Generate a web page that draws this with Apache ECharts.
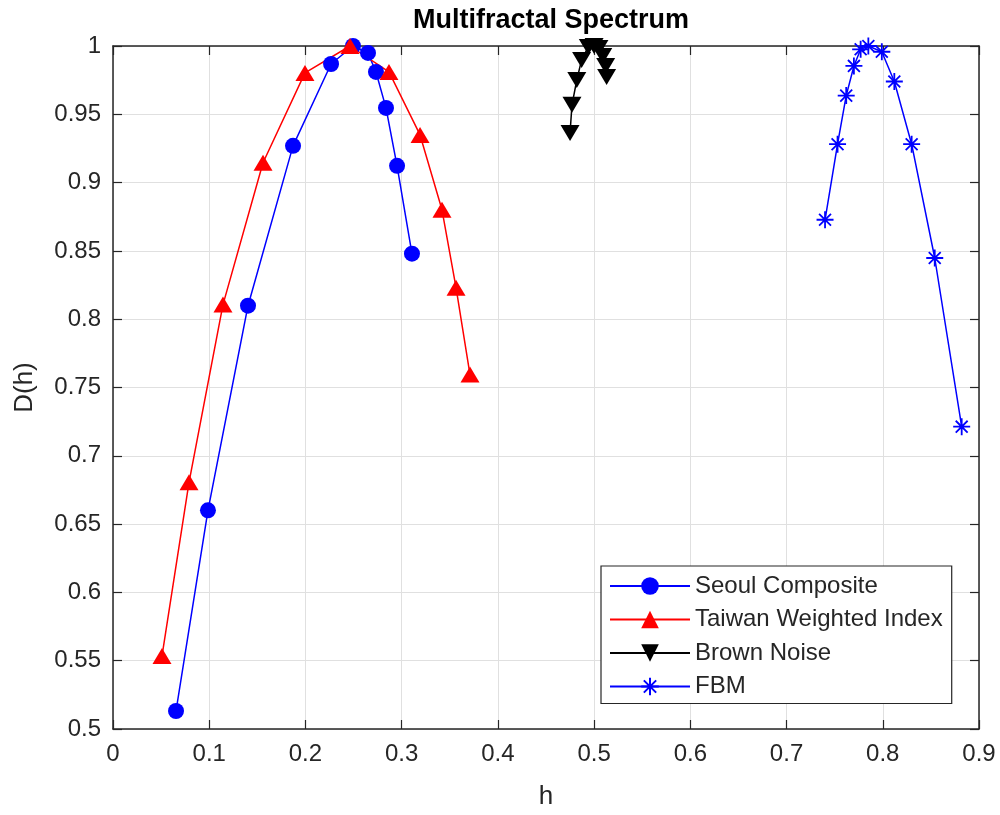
<!DOCTYPE html>
<html>
<head>
<meta charset="utf-8">
<script src="https://cdn.jsdelivr.net/npm/echarts@6/dist/echarts.min.js"></script>
<style>
html,body{margin:0;padding:0;background:#fff;}
#chart{width:1000px;height:815px;}
</style>
</head>
<body>
<div id="chart"></div>
<script>
// ---- data ----
const seoulH = [0.0655, 0.0987, 0.1403, 0.1871, 0.2266, 0.2494, 0.2650, 0.2733, 0.2837, 0.2952, 0.3107];
const seoulD = [0.5132, 0.6601, 0.8099, 0.9269, 0.9868, 1.0000, 0.9949, 0.9810, 0.9547, 0.9123, 0.8480];

const taiwanH = [0.0509, 0.0790, 0.1143, 0.1559, 0.1995, 0.2463, 0.2868, 0.3191, 0.3419, 0.3565, 0.3710];
const taiwanD = [0.5534, 0.6806, 0.8107, 0.9145, 0.9803, 1.0000, 0.9810, 0.9349, 0.8801, 0.8231, 0.7595];

const brownH = [0.475, 0.477, 0.482, 0.487, 0.494, 0.500, 0.505, 0.509, 0.512, 0.513];
const brownD = [0.9364, 0.9569, 0.9751, 0.9898, 0.9993, 1.0000, 0.9985, 0.9927, 0.9854, 0.9773];

const fbmH = [0.740, 0.753, 0.762, 0.770, 0.777, 0.785, 0.799, 0.812, 0.830, 0.854, 0.882];
const fbmD = [0.8728, 0.9281, 0.9637, 0.9854, 0.9976, 1.0000, 0.9958, 0.9740, 0.9281, 0.8448, 0.7213];

const seriesNames = ['Seoul Composite', 'Taiwan Weighted Index', 'Brown Noise', 'FBM'];
const titleText = 'Multifractal Spectrum';
const xName = 'h';
const yName = 'D(h)';

// ---- build ----
const pairs = (hs, ds) => hs.map((h, i) => [h, ds[i]]);
const FONT = 'Liberation Sans, Arial, Helvetica, sans-serif';
const AX = '#262626';
const GRID = '#e0e0e0';
const fmt = v => String(Number(v.toFixed(2)));
const asterisk = 'path://M0,-10L0,10M-10,0L10,0M-7,-7L7,7M-7,7L7,-7';

function axisCommon(show) {
  return {
    axisLine: { show: true, onZero: false, lineStyle: { color: AX, width: 1.5 } },
    axisTick: { show: true, inside: true, length: 9, lineStyle: { color: AX, width: 1.2 } },
    axisLabel: { show: show, color: AX, fontSize: 24, fontFamily: FONT, formatter: fmt },
    splitLine: { show: show, lineStyle: { color: GRID, width: 1 } }
  };
}

const chart = echarts.init(document.getElementById('chart'), null, { renderer: 'canvas' });
chart.setOption({
  animation: false,
  backgroundColor: '#fff',
  title: {
    text: titleText, left: 546, top: 2, textAlign: 'center',
    textStyle: { fontFamily: FONT, fontWeight: 'bold', fontSize: 27, color: '#000' }
  },
  grid: { left: 113, right: 21, top: 46, bottom: 85 },
  xAxis: [
    Object.assign({ type: 'value', min: 0, max: 0.9, interval: 0.1, position: 'bottom',
      name: xName, nameLocation: 'middle', nameGap: 55,
      nameTextStyle: { fontFamily: FONT, fontSize: 26, color: AX } }, axisCommon(true),
      { axisLabel: { color: AX, fontSize: 24, fontFamily: FONT, formatter: fmt, margin: 13 } }),
    Object.assign({ type: 'value', min: 0, max: 0.9, interval: 0.1, position: 'top' }, axisCommon(false))
  ],
  yAxis: [
    Object.assign({ type: 'value', min: 0.5, max: 1, interval: 0.05, position: 'left',
      name: yName, nameLocation: 'middle', nameGap: 75,
      nameTextStyle: { fontFamily: FONT, fontSize: 26, color: AX } }, axisCommon(true),
      { axisLabel: { color: AX, fontSize: 24, fontFamily: FONT, formatter: fmt, margin: 12 } }),
    Object.assign({ type: 'value', min: 0.5, max: 1, interval: 0.05, position: 'right' }, axisCommon(false))
  ],
  legend: {
    orient: 'vertical', left: 601, top: 566,
    backgroundColor: '#fff', borderColor: AX, borderWidth: 1.2,
    padding: [8, 9, 5, 8],
    itemWidth: 80, itemHeight: 22, itemGap: 9.5,
    textStyle: { fontFamily: FONT, fontSize: 24, color: AX, lineHeight: 22 },
    data: seriesNames
  },
  series: [
    { name: seriesNames[0], type: 'line', data: pairs(seoulH, seoulD),
      symbol: 'circle', symbolSize: 16, color: '#0000ff',
      lineStyle: { color: '#0000ff', width: 1.5 }, itemStyle: { color: '#0000ff' } },
    { name: seriesNames[1], type: 'line', data: pairs(taiwanH, taiwanD),
      symbol: 'triangle', symbolSize: [19, 16], color: '#ff0000',
      lineStyle: { color: '#ff0000', width: 1.5 }, itemStyle: { color: '#ff0000' } },
    { name: seriesNames[2], type: 'line', data: pairs(brownH, brownD),
      symbol: 'triangle', symbolRotate: 180, symbolSize: [19, 16], color: '#000000',
      lineStyle: { color: '#000000', width: 1.5 }, itemStyle: { color: '#000000' } },
    { name: seriesNames[3], type: 'line', data: pairs(fbmH, fbmD),
      symbol: asterisk, symbolSize: 17, color: '#0000ff',
      lineStyle: { color: '#0000ff', width: 1.5 },
      itemStyle: { color: '#0000ff', borderColor: '#0000ff', borderWidth: 1.8 } }
  ]
});
</script>
</body>
</html>
